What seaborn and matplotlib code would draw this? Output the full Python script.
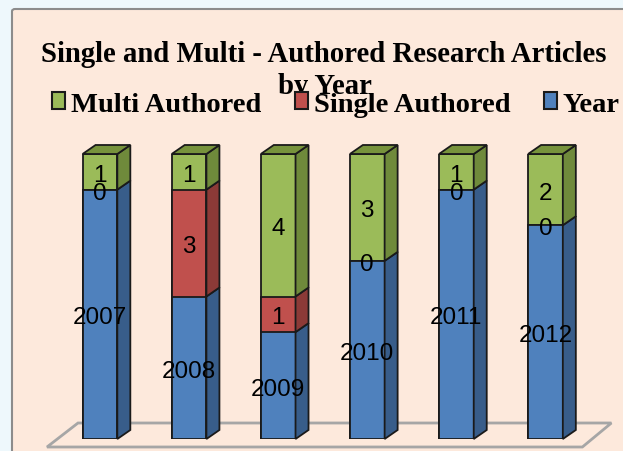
import numpy as np
import pandas as pd
import matplotlib.pyplot as plt
import seaborn as sns
from matplotlib.patches import Polygon, Patch, FancyBboxPatch

# data
years = ["2007", "2008", "2009", "2010", "2011", "2012"]
single_authored = [0, 3, 1, 0, 0, 0]
multi_authored = [1, 1, 4, 3, 1, 2]
# length of the "Year" segment as it appears in the chart
year_segment = [7, 4, 3, 5, 7, 6]

blue, red, green = "#4F81BD", "#C0504D", "#9BBB59"
blue_side, red_side, green_side = "#385D8A", "#8C3A37", "#6F8A3B"
green_top = "#77933C"
edge = "#1A1A1A"
peach = "#FDE9DC"

W, H = 623, 452
fig = plt.figure(figsize=(W / 100, H / 100), dpi=100)
fig.patch.set_facecolor("#EEF8FC")

# chart box
fig.patches.append(FancyBboxPatch((12 / W, -0.05), 1.1, 1 - 10 / H + 0.05,
                                  boxstyle="round,pad=0,rounding_size=0.005",
                                  transform=fig.transFigure, facecolor=peach,
                                  edgecolor="#8C8C8C", linewidth=1.5, zorder=0))

ax = fig.add_axes([55.4 / W, 12 / H, 534.6 / W, 285 / H])
ax.set_facecolor("none")
ax.set_zorder(2)

df = pd.DataFrame({"year": years, "year_seg": year_segment,
                   "single": single_authored, "multi": multi_authored})
df["bs"] = df["year_seg"] + df["single"]
df["total"] = df["bs"] + df["multi"]

bw = 0.39
kw = dict(width=bw, edgecolor=edge, linewidth=1.3, ax=ax, zorder=3)
sns.barplot(data=df, x="year", y="total", color=green, saturation=1, **kw)
sns.barplot(data=df, x="year", y="bs", color=red, saturation=1, **kw)
sns.barplot(data=df, x="year", y="year_seg", color=blue, saturation=1, **kw)

ax.set_xlim(-0.5, len(years) - 0.5)
ax.set_ylim(0, 8)
ax.axis("off")

# pixel -> data conversion for the 3D depth
px_x = (len(years)) / 534.6
px_y = 8 / 285
dx, dy = 13 * px_x, 9 * px_y

# floor
floor = Polygon([(-0.5 - 8.4 * px_x, -8 * px_y), (-0.5 + 22.6 * px_x, 16 * px_y),
                 (len(years) - 0.5 + 21.4 * px_x, 16 * px_y),
                 (len(years) - 0.5 - 7.6 * px_x, -8 * px_y)],
                closed=True, facecolor="none", edgecolor="#A6A6A6",
                linewidth=2, clip_on=False, zorder=1)
ax.add_patch(floor)

lab_font = dict(family="Liberation Sans", fontsize=17.5, ha="center", va="center",
                color="black", zorder=6)
lab_shift = 3 * px_y  # labels sit a touch below the segment centre

for i, row in df.iterrows():
    xr = i + bw / 2
    segs = [(0, row["year_seg"], blue_side), (row["year_seg"], row["bs"], red_side),
            (row["bs"], row["total"], green_side)]
    for y0, y1, c in segs:
        if y1 <= y0:
            continue
        ax.add_patch(Polygon([(xr, y0), (xr + dx, y0 + dy), (xr + dx, y1 + dy), (xr, y1)],
                             closed=True, facecolor=c, edgecolor=edge,
                             linewidth=1.3, clip_on=False, zorder=4))
    top = row["total"]
    ax.add_patch(Polygon([(i - bw / 2, top), (xr, top), (xr + dx, top + dy),
                          (i - bw / 2 + dx, top + dy)], closed=True,
                         facecolor=green_top, edgecolor=edge, linewidth=1.3,
                         clip_on=False, zorder=4))
    # data labels
    ax.text(i, row["year_seg"] / 2 - lab_shift, years[i], **lab_font)
    ax.text(i, row["year_seg"] + row["single"] / 2 - lab_shift, str(row["single"]), **lab_font)
    ax.text(i, row["bs"] + row["multi"] / 2 - lab_shift, str(row["multi"]), **lab_font)

# title
tfont = dict(family="Liberation Serif", weight="bold", fontsize=20.7, color="black")
fig.text(324 / W, 1 - 54 / H, "Single and Multi - Authored Research Articles",
         ha="center", va="center", **tfont)
fig.text(325 / W, 1 - 87 / H, "by Year", ha="center", va="center", **tfont)

handles = [Patch(facecolor=green, edgecolor=edge, linewidth=1.5),
           Patch(facecolor=red, edgecolor=edge, linewidth=1.5),
           Patch(facecolor=blue, edgecolor=edge, linewidth=1.5)]
fig.legend(handles, ["Multi Authored", "Single Authored", "Year"], ncol=3,
           loc="center", bbox_to_anchor=(336 / W, 1 - 105 / H), frameon=False,
           prop=dict(family="Liberation Serif", weight="bold", size=20.5),
           handlelength=0.45, handleheight=0.55, handletextpad=0.2,
           columnspacing=1.2, borderpad=0, borderaxespad=0)

fig.savefig("out.png", dpi=100, facecolor=fig.get_facecolor())
